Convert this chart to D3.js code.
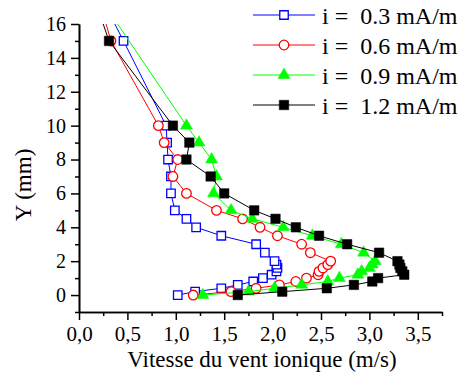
<!DOCTYPE html>
<html>
<head>
<meta charset="utf-8">
<script src="https://cdn.jsdelivr.net/npm/d3@7"></script>
<style>
body { margin: 0; background: #fff; }
text { font-family: "Liberation Serif", "Times New Roman", serif; fill: #000; }
</style>
</head>
<body>
<svg id="chart" width="462" height="376"></svg>
<script>
// Y positions (mm), shared by all series
var yPos = [0, 0.2, 0.4, 0.6, 0.8, 1.0, 1.2, 1.4, 1.6, 1.8, 2.0, 2.5, 3, 3.5, 4, 4.5, 5, 6, 7, 8, 9, 10, 15, 17];
// wind speeds (m/s) per current
var v03 = [1.02, 1.20, 1.47, 1.64, 1.80, 1.90, 1.99, 2.04, 2.05, 2.04, 2.02, 1.92, 1.83, 1.47, 1.21, 1.11, 0.99, 0.95, 0.95, 0.92, 0.91, 0.90, 0.46, 0.28];
var v06 = [1.18, 1.57, 1.83, 2.07, 2.24, 2.35, 2.47, 2.48, 2.52, 2.57, 2.60, 2.39, 2.30, 2.05, 1.87, 1.69, 1.42, 1.11, 0.97, 1.02, 0.88, 0.82, 0.33, 0.23];
var v09 = [1.28, 1.75, 2.02, 2.30, 2.57, 2.69, 2.88, 2.92, 3.00, 3.03, 3.06, 2.94, 2.71, 2.41, 2.11, 1.79, 1.57, 1.39, 1.42, 1.37, 1.24, 1.11, null, 0.28];
var v12 = [1.64, 2.10, 2.56, 2.84, 3.03, 3.09, 3.36, 3.34, 3.32, 3.31, 3.29, 3.10, 2.77, 2.48, 2.24, 2.03, 1.81, 1.50, 1.36, 1.11, 1.14, 0.97, 0.31, 0.19];
var labels = ['i =  0.3 mA/m', 'i =  0.6 mA/m', 'i =  0.9 mA/m', 'i =  1.2 mA/m'];
var xTicks = [0, 0.5, 1, 1.5, 2, 2.5, 3, 3.5];
var yTicks = [0, 2, 4, 6, 8, 10, 12, 14, 16];

var svg = d3.select('#chart');
var x = d3.scaleLinear().domain([0, 3.75]).range([79, 442]);
var y = d3.scaleLinear().domain([-1, 16]).range([312, 24]);

var series = [
	{vals: v03, color: '#0000ff', shape: 'square', fill: 'none', label: labels[0]},
	{vals: v06, color: '#ff0000', shape: 'circle', fill: 'none', label: labels[1]},
	{vals: v09, color: '#00ff00', shape: 'triangle', fill: '#00ff00', label: labels[2]},
	{vals: v12, color: '#000000', shape: 'square', fill: '#000000', label: labels[3]}
];

svg.append('clipPath').attr('id', 'plotclip')
	.append('rect').attr('x', 79).attr('y', 24).attr('width', 363).attr('height', 288);

var symbolFor = function(s) {
	if (s.shape === 'circle') return d3.symbol().type(d3.symbolCircle).size(72)();
	if (s.shape === 'triangle') return d3.symbol().type(d3.symbolTriangle).size(62)();
	if (s.fill === 'none') return d3.symbol().type(d3.symbolSquare).size(72)();
	return d3.symbol().type(d3.symbolSquare).size(90)();
};

var plot = svg.append('g').attr('clip-path', 'url(#plotclip)');
series.forEach(function(s) {
	var pts = yPos.map(function(p, i) { return {y: p, v: s.vals[i]}; })
		.filter(function(d) { return d.v !== null; });
	var line = d3.line().x(function(d) { return x(d.v); }).y(function(d) { return y(d.y); });
	plot.append('path').datum(pts)
		.attr('d', line)
		.attr('fill', 'none')
		.attr('stroke', s.color)
		.attr('stroke-width', 1);
	plot.selectAll(null).data(pts).enter().append('path')
		.attr('d', symbolFor(s))
		.attr('transform', function(d) { return 'translate(' + x(d.v) + ',' + y(d.y) + ')'; })
		.attr('fill', s.fill === 'none' ? '#fff' : s.fill)
		.attr('stroke', s.color)
		.attr('stroke-width', s.fill === 'none' ? 1.3 : 0.5);
});

// axes
var fmt = function(d) { return d3.format('.1f')(d).replace('.', ','); };
var xAxis = svg.append('g').attr('transform', 'translate(0,312)')
	.call(d3.axisBottom(x).tickValues(xTicks).tickFormat(fmt).tickSize(8).tickPadding(6).tickSizeOuter(0));
svg.append('g').attr('transform', 'translate(0,312)')
	.call(d3.axisBottom(x).tickValues(d3.range(0.25, 3.8, 0.5)).tickFormat('').tickSize(4).tickSizeOuter(0));
var yAxis = svg.append('g').attr('transform', 'translate(79,0)')
	.call(d3.axisLeft(y).tickValues(yTicks).tickSize(8).tickPadding(5).tickSizeOuter(0));
svg.append('g').attr('transform', 'translate(79,0)')
	.call(d3.axisLeft(y).tickValues(d3.range(-1, 16, 2)).tickFormat('').tickSize(4).tickSizeOuter(0));

svg.selectAll('.domain').attr('stroke', '#000').attr('stroke-width', 1.6);
svg.selectAll('.tick line').attr('stroke', '#000').attr('stroke-width', 1.5);
xAxis.selectAll('text').style('font-size', '21px').attr('fill', '#000');
yAxis.selectAll('text').style('font-size', '20px').attr('fill', '#000');

svg.append('text')
	.attr('x', 262).attr('y', 367)
	.attr('text-anchor', 'middle')
	.style('font-size', '23px')
	.text('Vitesse du vent ionique (m/s)');
svg.append('text')
	.attr('transform', 'translate(31,185) rotate(-90)')
	.attr('text-anchor', 'middle')
	.style('font-size', '23px')
	.text('Y (mm)');

// legend
var leg = svg.append('g');
series.forEach(function(s, i) {
	var ly = 15 + i * 30;
	leg.append('line')
		.attr('x1', 253).attr('x2', 315).attr('y1', ly).attr('y2', ly)
		.attr('stroke', s.color).attr('stroke-width', 1);
	leg.append('path')
		.attr('d', symbolFor(s))
		.attr('transform', 'translate(284,' + ly + ')')
		.attr('fill', s.fill === 'none' ? '#fff' : s.fill)
		.attr('stroke', s.color)
		.attr('stroke-width', s.fill === 'none' ? 1.3 : 0.5);
	leg.append('text')
		.attr('x', 322).attr('y', ly + 9)
		.style('font-size', '24px')
		.style('white-space', 'pre')
		.attr('xml:space', 'preserve')
		.text(s.label);
});
</script>
</body>
</html>
